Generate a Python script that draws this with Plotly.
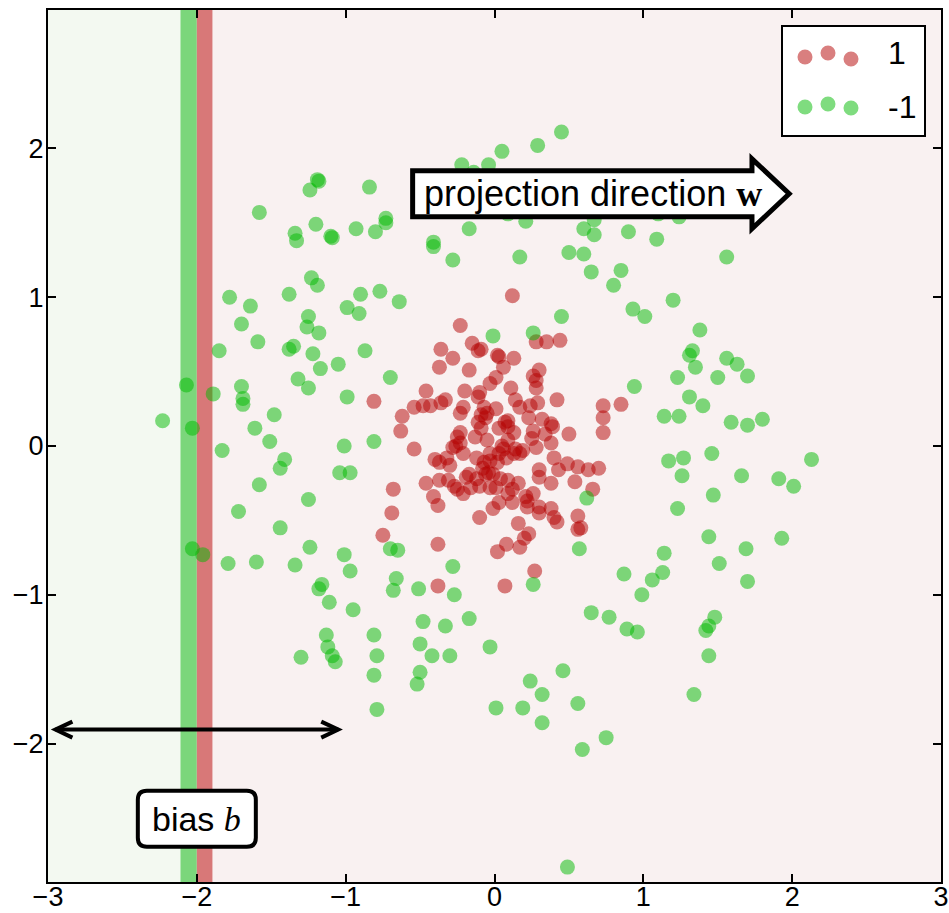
import plotly.graph_objects as go

# Class "1": compact cluster around the origin
red_x = [0.12, -0.23, -0.36, -0.37, -0.28, -0.15, -0.09, -0.11, 0.02, 0.03, 0.13, 0.06, 0.01, -0.03, -0.17,
         0.28, 0.35, 0.44, 0.30, 0.26, 0.28, 0.28, 0.42, 0.11, 0.14, 0.17, 0.29, 0.24, 0.23, 0.32, 0.38, 0.39,
         -0.20, -0.10, -0.11, -0.46, -0.54, -0.48, -0.43, -0.36, -0.33, -0.62, -0.63, -0.54, -0.23, -0.21,
         -0.09, -0.06, -0.11, -0.09, 0.01, 0.07, 0.09, 0.03, 0.26, 0.25, 0.38, 0.50, 0.40, 0.43, 0.49, 0.56,
         0.63, 0.70, 0.54, 0.66, 0.38, 0.30, 0.30, 0.28, 0.14, 0.17, 0.19, 0.09, 0.05, 0.03, -0.03, 0.08,
         -0.05, -0.13, -0.23, -0.23, -0.26, -0.21, -0.12, -0.07, -0.08, -0.04, -0.06, -0.01, -0.40, -0.32,
         -0.30, -0.37, -0.17, -0.19, -0.37, -0.46, -0.31, -0.27, -0.25, -0.21, -0.41, -0.38, -0.12, -0.10,
         0.01, 0.09, 0.12, 0.16, 0.09, 0.21, 0.12, 0.22, -0.01, 0.03, -0.10, 0.16, 0.30, 0.30, 0.38, 0.40,
         0.42, 0.56, 0.56, 0.58, 0.23, 0.20, 0.17, 0.08, 0.02, -0.38, -0.68, -0.69, -0.75, -0.38, 0.07, 0.27,
         0.73, 0.73, 0.73, 0.85, -0.81, -0.25, -0.28, 0.06, 0.13, -0.03, 0.02, -0.07, -0.05, 0.09, 0.13,
         0.34, -0.03, -0.16, 0.04, 0.22, 0.26]
red_y = [1.01, 0.81, 0.65, 0.53, 0.59, 0.69, 0.65, 0.64, 0.61, 0.60, 0.59, 0.53, 0.46, 0.42, 0.51,
         0.70, 0.70, 0.71, 0.51, 0.47, 0.44, 0.39, 0.31, 0.39, 0.31, 0.26, 0.29, 0.27, 0.19, 0.18, 0.15, 0.13,
         0.37, 0.36, 0.33, 0.37, 0.26, 0.27, 0.27, 0.29, 0.31, 0.20, 0.10, -0.02, 0.22, 0.26,
         0.21, 0.19, 0.16, 0.12, 0.25, 0.16, 0.13, 0.12, 0.10, 0.05, 0.02, 0.08, -0.08, -0.16, -0.12, -0.14,
         -0.16, -0.15, -0.24, -0.29, -0.25, -0.16, -0.21, -0.01, -0.02, -0.05, -0.03, 0.04, 0.00, -0.05, -0.05, -0.08,
         0.04, 0.06, 0.09, 0.02, 0.00, -0.05, -0.08, -0.11, -0.15, -0.18, -0.19, -0.19, -0.09, -0.08,
         -0.13, -0.11, -0.19, -0.21, -0.23, -0.25, -0.23, -0.27, -0.29, -0.32, -0.34, -0.40, -0.22, -0.27,
         -0.28, -0.23, -0.29, -0.25, -0.32, -0.34, -0.38, -0.41, -0.42, -0.38, -0.48, -0.52, -0.41, -0.45, -0.42, -0.48,
         -0.51, -0.47, -0.56, -0.55, -0.59, -0.62, -0.68, -0.66, -0.71, -0.66, -0.29, -0.45, -0.60, -0.94, -0.94, -0.84,
         0.27, 0.19, 0.09, 0.28, 0.30, 0.06, -0.01, -0.02, -0.05, -0.10, -0.11, 0.26, 0.22, 0.17, 0.09,
         0.08, -0.28, -0.28, -0.22, -0.37, -0.32]

# Class "-1": ring surrounding the cluster
green_x = [0.45, 0.29, 0.05, -0.04, -0.22, -0.14, 0.09, 0.21, -0.17, -0.28, 0.17, 0.60, 0.67, 0.67, 0.50,
           0.60, 0.65, 0.85, 0.80, 0.90, 1.09, 1.10, 1.24, 1.56, 1.20, -0.41, -0.41, -0.73, -0.73, -0.80,
           -0.93, -0.84, -1.18, -1.19, -1.24, -1.58, -1.34, -1.33, -1.20, -1.10, -1.09, -1.23, -1.19, -1.38,
           -1.78, -1.64, -1.70, -1.59, -1.85, -1.25, -1.26, -1.18, -1.35, -1.38, -1.22, -1.17, -1.32, -1.25,
           -1.05, -0.87, -0.99, -0.91, -0.90, -0.77, -0.64, -0.70, -0.99, -1.70, -1.69, -1.69, -2.07, -1.89,
           -2.23, -2.03, -1.48, -1.61, -1.51, -1.01, -0.81, -1.83, -1.41, -1.44, -1.58, -1.25, -1.72, -1.44,
           -1.24, -1.79, -1.60, -1.34, -2.03, -1.96, -1.04, -0.97, -1.01, -0.97, -1.16, -1.18, -1.11, -0.95,
           -0.70, -0.65, -0.66, -0.68, -0.51, -0.48, -0.50, -0.42, -0.50, -0.52, -1.13, -1.12, -1.09, -1.07,
           -1.30, -0.81, -0.79, -0.81, -0.79, -0.28, -0.27, 0.26, -0.33, -0.17, -0.30, -0.03, 0.46, 0.24,
           0.32, 0.01, 0.19, 0.32, 0.56, 0.75, 0.59, 0.49, 0.65, 0.77, 0.89, 0.96, 0.87, 1.06, 1.13, 0.99,
           1.51, 1.70, 1.48, 1.44, 1.42, 1.44, 1.34, 1.01, 1.38, 1.33, 1.31, 1.35, 1.56, 1.63, 1.70, 1.23,
           1.50, 1.31, 1.40, 1.14, 1.24, 1.59, 1.70, 1.80, 0.94, 1.17, 1.27, 1.46, 1.26, 1.66, 1.91, 2.01,
           2.13, 1.47, 1.23, 1.44, 1.93, 1.14, 1.69, -0.01, 0.26, 0.45, 0.93, 0.62, 0.57]
green_y = [2.11, 2.02, 1.98, 1.89, 1.89, 1.84, 1.56, 1.51, 1.46, 1.25, 1.27, 1.46, 1.52, 1.42, 1.30,
           1.29, 1.17, 1.18, 1.08, 1.44, 1.39, 1.56, 1.54, 1.27, 0.98, 1.34, 1.37, 1.53, 1.50, 1.44,
           1.46, 1.74, 1.78, 1.79, 1.72, 1.57, 1.43, 1.38, 1.49, 1.41, 1.40, 1.13, 1.08, 1.02,
           1.00, 0.94, 0.82, 0.70, 0.64, 0.87, 0.80, 0.76, 0.67, 0.65, 0.62, 0.52, 0.45, 0.39,
           0.55, 0.64, 0.93, 0.89, 1.02, 1.04, 0.97, 0.46, 0.33, 0.40, 0.32, 0.28, 0.41, 0.35,
           0.17, 0.12, 0.21, 0.12, 0.03, 0.00, 0.03, -0.03, -0.09, -0.15, -0.26, -0.36, -0.44, -0.55,
           -0.68, -0.79, -0.78, -0.80, -0.69, -0.73, -0.18, -0.18, -0.73, -0.84, -0.93, -0.96, -1.05, -1.10,
           -0.69, -0.70, -0.89, -0.97, -0.96, -1.18, -1.33, -1.41, -1.52, -1.60, -1.27, -1.35, -1.41, -1.45,
           -1.42, -1.27, -1.41, -1.54, -1.77, -0.81, -1.00, -0.93, -1.21, -1.16, -1.41, -1.35, -1.51, -1.58,
           -1.67, -1.76, -1.76, -1.86, -1.73, -1.96, -2.04, -2.83, -1.12, -1.15, -1.23, -1.25, -0.86, -0.90, -0.85, -1.00,
           -0.79, -0.91, -1.15, -1.21, -1.24, -1.41, -1.67, 0.87, 0.78, 0.64, 0.61, 0.53, 0.59, 0.55, 0.47, 0.46,
           0.46, 0.33, 0.27, 0.20, 0.20, 0.16, 0.14, 0.18, 0.40, -0.10, -0.08, -0.05, -0.20, -0.20, -0.22, -0.27,
           -0.09, -0.33, -0.42, -0.61, -0.62, -0.72, -0.69, 0.74, 0.76, 0.87, 0.92, -0.35, -0.69]

class_labels = ["1", "-1"]
x_ticks = [-3, -2, -1, 0, 1, 2, 3]
y_ticks = [-2, -1, 0, 1, 2]
boundary_x = -2.0

X_RANGE = [-3, 3]
Y_RANGE = [-2.93, 2.93]
RED = "rgba(180,0,0,0.5)"
GREEN = "rgba(0,185,0,0.5)"
SANS = "Liberation Sans"

# plot-area geometry in pixels (used for paper-anchored decorations)
W, H = 949, 913
ML, MR, MT, MB = 48, 8, 10, 31
PW, PH = W - ML - MR, H - MT - MB


def px2paper(px, py):
    return (px - ML) / PW, 1 - (py - MT) / PH


fig = go.Figure()
fig.add_trace(go.Scatter(x=red_x, y=red_y, mode="markers", name=class_labels[0],
                         marker=dict(size=15, color=RED, line=dict(width=0)), showlegend=False))
fig.add_trace(go.Scatter(x=green_x, y=green_y, mode="markers", name=class_labels[1],
                         marker=dict(size=15, color=GREEN, line=dict(width=0)), showlegend=False))

shapes = []
# decision regions and the boundary bands
shapes.append(dict(type="rect", xref="x", yref="paper", x0=-3, x1=boundary_x - 0.11, y0=0, y1=1,
                   fillcolor="#f3f9f1", line=dict(width=0), layer="below"))
shapes.append(dict(type="rect", xref="x", yref="paper", x0=boundary_x + 0.105, x1=3, y0=0, y1=1,
                   fillcolor="#f9f1f1", line=dict(width=0), layer="below"))
shapes.append(dict(type="rect", xref="x", yref="paper", x0=boundary_x - 0.11, x1=boundary_x, y0=0, y1=1,
                   fillcolor="#7bd67b", line=dict(width=0), layer="below"))
shapes.append(dict(type="rect", xref="x", yref="paper", x0=boundary_x, x1=boundary_x + 0.105, y0=0, y1=1,
                   fillcolor="#d87878", line=dict(width=0), layer="below"))

# block arrow for the projection direction
shapes.append(dict(type="path", xref="x", yref="y",
                   path="M -0.55,1.54 L 1.73,1.54 L 1.73,1.46 L 1.98,1.695 L 1.73,1.93 L 1.73,1.85 L -0.55,1.85 Z",
                   fillcolor="white", line=dict(color="black", width=5)))

# double-headed arrow for the bias
ya = -1.906
shapes.append(dict(type="line", xref="x", yref="y", x0=-2.95, x1=-1.05, y0=ya, y1=ya,
                   line=dict(color="black", width=4)))
shapes.append(dict(type="path", xref="x", yref="y",
                   path=f"M -2.836,{ya + 0.054} L -2.95,{ya} L -2.836,{ya - 0.054}",
                   line=dict(color="black", width=4)))
shapes.append(dict(type="path", xref="x", yref="y",
                   path=f"M -1.164,{ya + 0.054} L -1.05,{ya} L -1.164,{ya - 0.054}",
                   line=dict(color="black", width=4)))

# rounded box around the bias label
bx, by = -2.0, -2.505
shapes.append(dict(type="path", xref="x", yref="y", xsizemode="pixel", ysizemode="pixel",
                   xanchor=bx, yanchor=by,
                   path="M -50,-28 L 50,-28 Q 59,-28 59,-19 L 59,19 Q 59,28 50,28 L -50,28 "
                        "Q -59,28 -59,19 L -59,-19 Q -59,-28 -50,-28 Z",
                   fillcolor="white", line=dict(color="black", width=4)))

# legend frame and sample markers
lx0, ly0 = px2paper(782, 26)
lx1, ly1 = px2paper(925, 136)
shapes.append(dict(type="rect", xref="paper", yref="paper", x0=lx0, x1=lx1, y0=ly1, y1=ly0,
                   fillcolor="white", line=dict(color="black", width=2)))
legend_rows = [(RED, [(805, 57), (828, 53), (851, 59)], 53),
               (GREEN, [(805, 107), (828, 104), (851, 108)], 107)]
for color, dots, _ in legend_rows:
    for (px, py) in dots:
        ax_, ay_ = px2paper(px, py)
        shapes.append(dict(type="circle", xref="paper", yref="paper", xsizemode="pixel", ysizemode="pixel",
                           xanchor=ax_, yanchor=ay_, x0=-7.5, x1=7.5, y0=-7.5, y1=7.5,
                           fillcolor=color, line=dict(width=0)))

annotations = []
for label, (_, _, row_y), cx in zip(class_labels, legend_rows, [897, 902]):
    ax_, ay_ = px2paper(cx, row_y)
    annotations.append(dict(xref="paper", yref="paper", x=ax_, y=ay_, text=label, showarrow=False,
                            xanchor="center", yanchor="middle", font=dict(family=SANS, size=32, color="black")))

annotations.append(dict(xref="x", yref="y", x=-0.49, y=1.695, xanchor="left", yanchor="middle", showarrow=False,
                        text="projection direction <span style=\"font-family:'Liberation Serif';font-weight:bold\">w</span>",
                        font=dict(family=SANS, size=36, color="black")))
annotations.append(dict(xref="x", yref="y", x=bx, y=by, xanchor="center", yanchor="middle", showarrow=False,
                        text="bias <span style=\"font-family:'Liberation Serif';font-style:italic\">b</span>",
                        font=dict(family=SANS, size=34, color="black")))

axis_common = dict(showgrid=False, zeroline=False, showline=True, linecolor="black", linewidth=2,
                   mirror="ticks", ticks="inside", ticklen=8, tickwidth=1.5, tickcolor="black",
                   automargin=False,
                   tickfont=dict(family=SANS, size=27, color="black"))

fig.update_layout(
    width=W, height=H, autosize=False,
    margin=dict(l=ML, r=MR, t=MT, b=MB, autoexpand=False),
    paper_bgcolor="white", plot_bgcolor="white",
    xaxis=dict(range=X_RANGE, tickvals=x_ticks, ticklabelstandoff=-10, **axis_common),
    yaxis=dict(range=Y_RANGE, tickvals=y_ticks, ticklabelstandoff=-3, **axis_common),
    shapes=shapes, annotations=annotations, showlegend=False,
)

fig.write_html("out.html")
